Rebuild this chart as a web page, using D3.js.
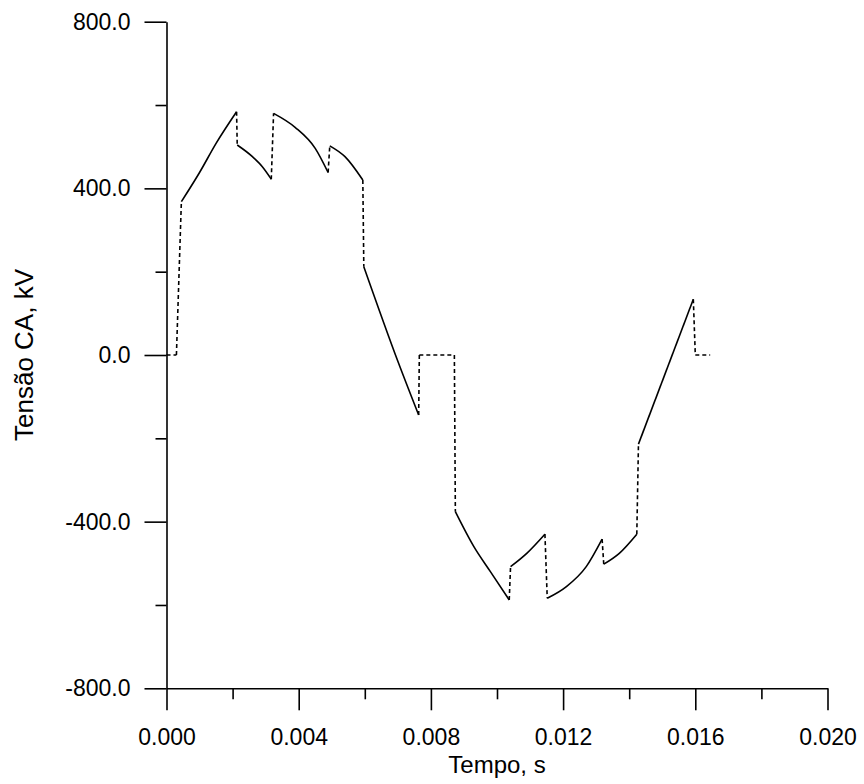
<!DOCTYPE html>
<html>
<head>
<meta charset="utf-8">
<script src="https://cdn.jsdelivr.net/npm/d3@7/dist/d3.min.js"></script>
<style>
  html, body { margin: 0; padding: 0; background: #fff; }
  svg { display: block; }
  text { font-family: Arial, "Liberation Sans", sans-serif; fill: #000; }
</style>
</head>
<body>
<svg id="chart" width="864" height="784"></svg>
<script>
// AC voltage waveform (kV) against time (s)
const timeS = [
  0.0000, 0.0003, 0.00045, 0.0010, 0.0015, 0.00212, 0.00214, 0.0026, 0.0029, 0.00317,
  0.00324, 0.0039, 0.0045, 0.00489, 0.00494, 0.0054, 0.00594, 0.00597, 0.0070, 0.00763,
  0.00765, 0.00871, 0.00874, 0.0093, 0.0098, 0.01037, 0.01041, 0.0109, 0.01145, 0.01152,
  0.0121, 0.0127, 0.01318, 0.01323, 0.0137, 0.01423, 0.01428, 0.01594, 0.01600, 0.01645
];
const voltageKV = [
  0, 0, 368, 438, 508, 584, 504, 476, 452, 422,
  580, 546, 496, 438, 502, 476, 420, 212, -15, -144,
  0, 0, -376, -460, -520, -588, -508, -476, -430, -584,
  -556, -508, -442, -502, -476, -430, -214, 134, 0, 0
];

const xMajorTicks = [0, 0.004, 0.008, 0.012, 0.016, 0.020];
const xMinorTicks = [0.002, 0.006, 0.010, 0.014, 0.018];
const yMajorTicks = [-800, -400, 0, 400, 800];
const yMinorTicks = [-600, -200, 200, 600];

const xTitle = "Tempo, s";
const yTitle = "Tensão CA, kV";

const locale = d3.formatLocale({ decimal: ".", thousands: ",", grouping: [3], currency: ["", ""], minus: "-" });
const fmtX = locale.format(".3f");
const fmtY = locale.format(".1f");

const svg = d3.select("#chart");
const plotLeft = 166.5, plotRight = 827.5, plotTop = 21.7, plotBottom = 688.3;

const x = d3.scaleLinear().domain([0, 0.020]).range([plotLeft, plotRight]);
const y = d3.scaleLinear().domain([-800, 800]).range([plotBottom, plotTop]);

const majorLen = 22, minorLen = 11;
const fontStack = "Arial, 'Liberation Sans', sans-serif";

// Y axis
const yAxis = svg.append("g").attr("transform", `translate(${plotLeft},0)`)
  .call(d3.axisLeft(y).tickValues(yMajorTicks).tickSize(majorLen).tickSizeOuter(0).tickFormat(fmtY).tickPadding(14));
svg.append("g").attr("transform", `translate(${plotLeft},0)`)
  .call(d3.axisLeft(y).tickValues(yMinorTicks).tickSize(minorLen).tickSizeOuter(0).tickFormat(""))
  .select(".domain").remove();

// X axis
const xAxis = svg.append("g").attr("transform", `translate(0,${plotBottom})`)
  .call(d3.axisBottom(x).tickValues(xMajorTicks).tickSize(majorLen).tickSizeOuter(0).tickFormat(fmtX).tickPadding(18));
svg.append("g").attr("transform", `translate(0,${plotBottom})`)
  .call(d3.axisBottom(x).tickValues(xMinorTicks).tickSize(minorLen).tickSizeOuter(0).tickFormat(""))
  .select(".domain").remove();

svg.selectAll(".domain, .tick line").attr("stroke", "#000").attr("stroke-width", 1.6);
yAxis.selectAll("text").attr("font-size", 23).attr("font-family", fontStack).attr("fill", "#000");
xAxis.selectAll("text").attr("font-size", 23).attr("font-family", fontStack).attr("fill", "#000");

// Axis titles
svg.append("text")
  .attr("x", (plotLeft + plotRight) / 2).attr("y", 773)
  .attr("text-anchor", "middle").attr("font-size", 24)
  .text(xTitle);
svg.append("text")
  .attr("transform", `translate(33,${(plotTop + plotBottom) / 2}) rotate(-90)`)
  .attr("text-anchor", "middle").attr("font-size", 26)
  .text(yTitle);

// Waveform: continuous stretches drawn solid, switching jumps and zero holds drawn dashed
const pts = timeS.map((t, i) => ({ t, v: voltageKV[i] }));
const isDashed = (a, b) => (a.v === 0 && b.v === 0) || Math.abs((b.v - a.v) / (b.t - a.t)) > 1e6;

const runs = [];
let current = null;
for (let i = 1; i < pts.length; i++) {
  const a = pts[i - 1], b = pts[i];
  if (isDashed(a, b)) {
    current = null;
  } else {
    if (!current) { current = [a]; runs.push(current); }
    current.push(b);
  }
}

const line = d3.line().x(d => x(d.t)).y(d => y(d.v)).curve(d3.curveMonotoneX);
svg.append("g").selectAll("path.run").data(runs).join("path")
  .attr("class", "run")
  .attr("d", line)
  .attr("fill", "none").attr("stroke", "#000").attr("stroke-width", 1.6)
  .attr("stroke-linejoin", "round");

const jumps = [];
for (let i = 1; i < pts.length; i++) {
  if (isDashed(pts[i - 1], pts[i])) jumps.push([pts[i - 1], pts[i]]);
}
svg.append("g").selectAll("path.jump").data(jumps).join("path")
  .attr("class", "jump")
  .attr("d", d3.line().x(d => x(d.t)).y(d => y(d.v)))
  .attr("fill", "none").attr("stroke", "#000").attr("stroke-width", 1.6)
  .attr("stroke-dasharray", "4,3");
</script>
</body>
</html>
